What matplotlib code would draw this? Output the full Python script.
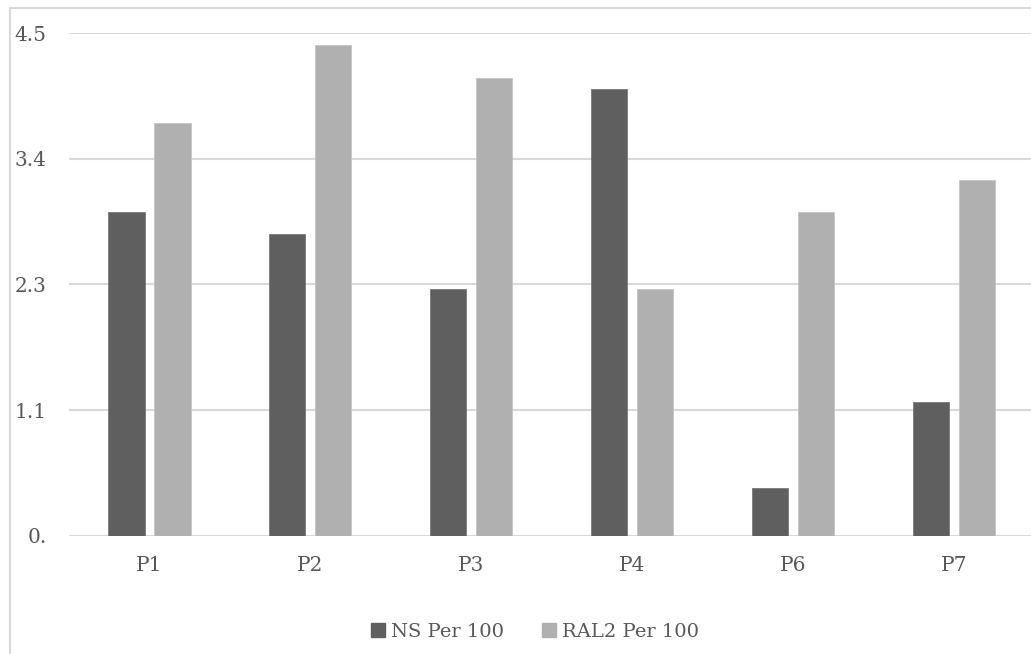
import matplotlib
matplotlib.use("Agg")
import matplotlib.pyplot as plt
import matplotlib.patches as mpatches
import numpy as np

# ── Dados ──────────────────────────────────────────────────────────────────────
categories = ["P1", "P2", "P3", "P4", "P6", "P7"]
ns_per_100 = [2.90, 2.70, 2.21, 4.00, 0.43, 1.20]
ral2_per_100 = [3.70, 4.40, 4.10, 2.21, 2.90, 3.19]
y_ticks = [0, 1.125, 2.25, 3.375, 4.5]
y_tick_labels = ["0.", "1.1", "2.3", "3.4", "4.5"]

# ── Estilo ─────────────────────────────────────────────────────────────────────
COLOR_NS = "#5f5f5f"
COLOR_RAL2 = "#b0b0b0"
GRID_COLOR = "#d9d9d9"
TEXT_COLOR = "#595959"

plt.rcParams["font.family"] = ["DejaVu Serif"]

fig = plt.figure(figsize=(10.31, 6.54), dpi=100)
ax = fig.add_axes([0.067, 0.181, 0.936, 0.768])

x = np.arange(len(categories))
width = 0.224
offset = 0.143

ax.bar(x - offset, ns_per_100, width, color=COLOR_NS, edgecolor="#7a7a7a",
       linewidth=0.6, zorder=3, label="NS Per 100")
ax.bar(x + offset, ral2_per_100, width, color=COLOR_RAL2, edgecolor="#c4c4c4",
       linewidth=0.6, zorder=3, label="RAL2 Per 100")

ax.set_xlim(-0.5, len(categories) - 0.5)
ax.set_ylim(0, 4.5)
ax.set_yticks(y_ticks)
ax.set_yticklabels(y_tick_labels)
ax.set_xticks(x)
ax.set_xticklabels(categories)
ax.tick_params(axis="both", length=0, labelsize=14.5, labelcolor=TEXT_COLOR)
ax.tick_params(axis="y", pad=16)
ax.tick_params(axis="x", pad=15)
ax.yaxis.grid(True, color=GRID_COLOR, linewidth=1.5, zorder=0)
ax.set_axisbelow(True)
for s in ax.spines.values():
    s.set_visible(False)

# Borda externa do gráfico
fig.patches.append(mpatches.Rectangle((10 / 1031, -0.1), 1.2, 1.1 - 8 / 654,
                                      transform=fig.transFigure, fill=False,
                                      edgecolor=GRID_COLOR, linewidth=1.5))

handles = [mpatches.Patch(color=COLOR_NS, label="NS Per 100"),
           mpatches.Patch(color=COLOR_RAL2, label="RAL2 Per 100")]
leg = fig.legend(handles=handles, loc="center", bbox_to_anchor=(535 / 1031, 1 - 632 / 654),
                 ncol=2, frameon=False, fontsize=14, handlelength=0.7, handleheight=0.7,
                 handletextpad=0.3, columnspacing=2.0)
for t in leg.get_texts():
    t.set_color(TEXT_COLOR)

fig.savefig("out.png", dpi=100)
